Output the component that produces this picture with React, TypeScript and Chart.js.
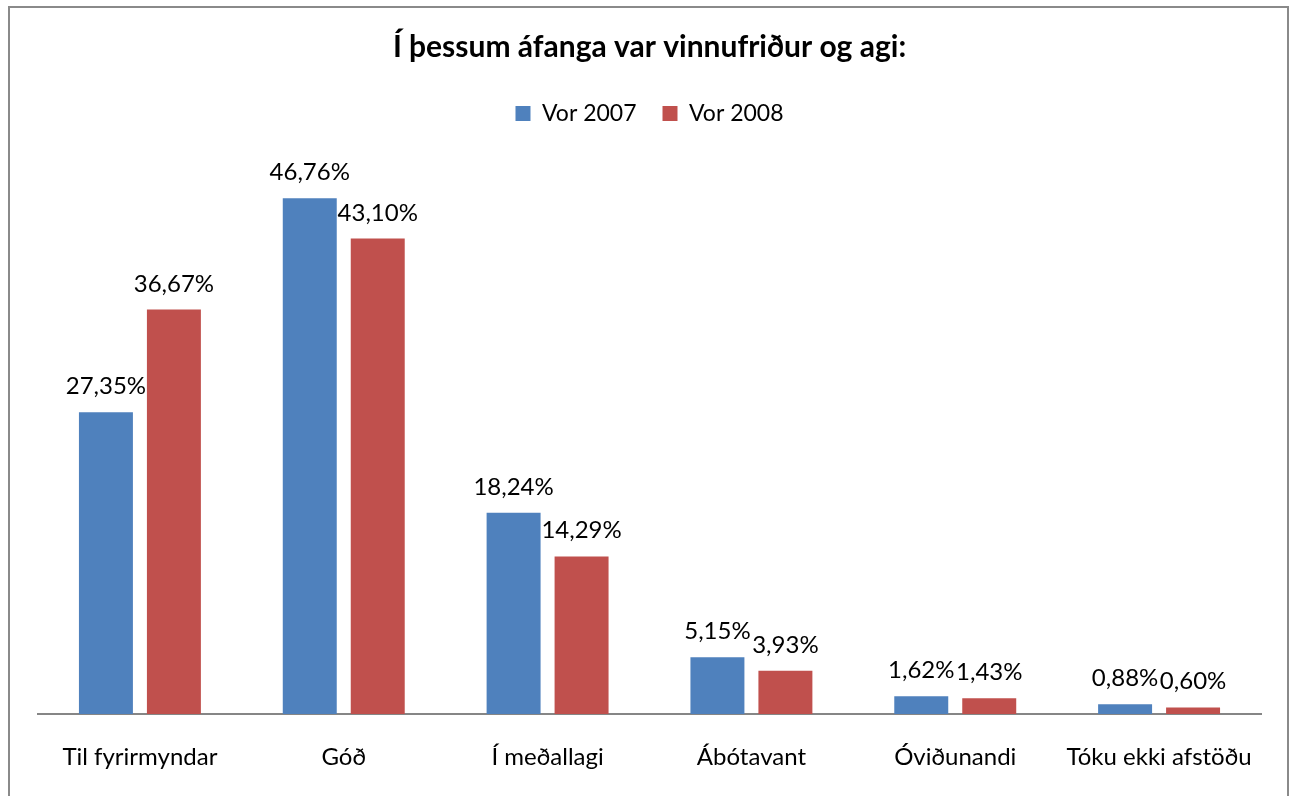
import React, { useEffect, useRef } from 'react';
import { Chart, registerables } from 'chart.js';

Chart.register(...registerables);

const titleText = 'Í þessum áfanga var vinnufriður og agi:';
const categories = ['Til fyrirmyndar', 'Góð', 'Í meðallagi', 'Ábótavant', 'Óviðunandi', 'Tóku ekki afstöðu'];
const seriesNames = ['Vor 2007', 'Vor 2008'];
const vor2007 = [27.35, 46.76, 18.24, 5.15, 1.62, 0.88];
const vor2008 = [36.67, 43.1, 14.29, 3.93, 1.43, 0.6];
const seriesColors = ['#4F81BD', '#C0504D'];
const yMin = 0;
const yMax = 50;

const FONT = 'Lato';

const fmt = (v: number) => v.toFixed(2).replace('.', ',') + '%';

const frameAndLabels = {
  id: 'frameAndLabels',
  beforeDraw(chart: any) {
    const { ctx, width, height } = chart;
    ctx.save();
    ctx.fillStyle = '#ffffff';
    ctx.fillRect(0, 0, width, height);
    ctx.strokeStyle = '#8a8a8a';
    ctx.lineWidth = 2;
    ctx.strokeRect(9, 7, 1279, height + 20);
    ctx.restore();
  },
  afterDatasetsDraw(chart: any) {
    const { ctx } = chart;
    ctx.save();
    ctx.font = `24px ${FONT}`;
    ctx.fillStyle = '#000000';
    ctx.textAlign = 'center';
    ctx.textBaseline = 'alphabetic';
    chart.data.datasets.forEach((ds: any, di: number) => {
      const meta = chart.getDatasetMeta(di);
      meta.data.forEach((bar: any, i: number) => {
        ctx.fillText(fmt(ds.data[i]), bar.x, bar.y - 18);
      });
    });
    ctx.restore();
  },
};

export default function App() {
  const ref = useRef<HTMLCanvasElement | null>(null);
  useEffect(() => {
    if (!ref.current) return;
    const chart = new Chart(ref.current, {
      type: 'bar',
      data: {
        labels: categories,
        datasets: [
          { label: seriesNames[0], data: vor2007, backgroundColor: seriesColors[0], borderWidth: 0 },
          { label: seriesNames[1], data: vor2008, backgroundColor: seriesColors[1], borderWidth: 0 },
        ],
      },
      options: {
        animation: false,
        responsive: true,
        maintainAspectRatio: false,
        devicePixelRatio: 1,
        datasets: { bar: { categoryPercentage: 0.667, barPercentage: 0.794 } } as any,
        layout: { padding: { left: 38, right: 35, top: 0, bottom: 0 } },
        plugins: {
          title: {
            display: true,
            text: titleText,
            color: '#000000',
            font: { family: FONT, size: 30, weight: 'bold' },
            padding: { top: 29, bottom: 11 },
          },
          subtitle: {
            display: true,
            text: '',
            weight: 500,
            font: { size: 10 },
            padding: { top: 0, bottom: 15.5 },
          } as any,
          legend: {
            display: true,
            position: 'top',
            labels: {
              color: '#000000',
              font: { family: FONT, size: 23 },
              boxWidth: 15,
              boxHeight: 15,
              padding: 26,
            },
          },
          tooltip: { enabled: false },
        },
        scales: {
          x: {
            grid: { display: false },
            border: { display: true, color: '#868686', width: 2 },
            ticks: { color: '#000000', font: { family: FONT, size: 24 }, padding: 21, maxRotation: 0 },
            afterFit(scale: any) {
              scale.height = 82;
            },
          },
          y: {
            display: false,
            min: yMin,
            max: yMax,
          },
        },
      },
      plugins: [frameAndLabels],
    });
    return () => chart.destroy();
  }, []);
  return (
    <div style={{ position: 'absolute', left: 0, top: 0, width: 1296, height: 796 }}>
      <canvas ref={ref} />
    </div>
  );
}
